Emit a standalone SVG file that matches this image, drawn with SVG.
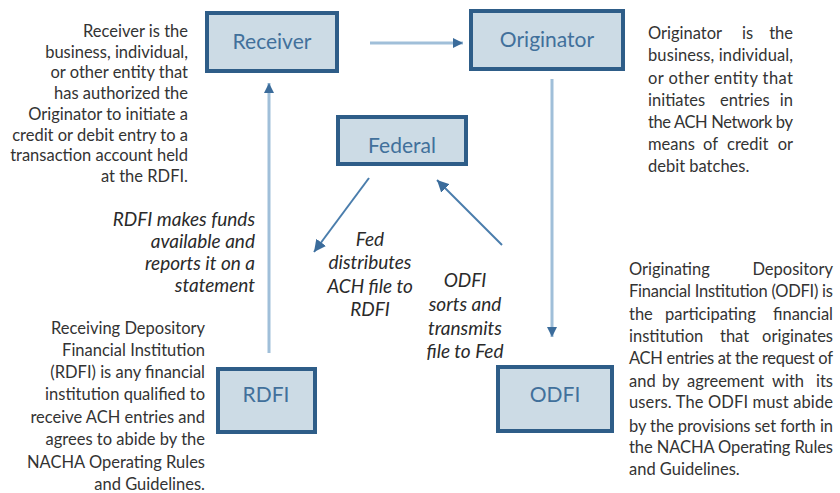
<svg xmlns="http://www.w3.org/2000/svg" width="840" height="493" viewBox="0 0 840 493">
<defs>
<style>
.box{fill:#ccdbe5;stroke:#2e5d88;stroke-width:4}
.lbl{font-family:Lato,"Liberation Sans",sans-serif;font-size:21px;fill:#41709b;text-anchor:middle}
.desc{font-family:Lato,"Liberation Sans",sans-serif;font-size:16.5px;fill:#333333}
.it{font-family:Lato,"Liberation Sans",sans-serif;font-size:19px;font-style:italic;fill:#2a2a2a}
.r{text-anchor:end}
.c{text-anchor:middle}
.lc{fill:none;stroke:#a0bfd9;stroke-width:3}
.dc{fill:none;stroke:#4a7dac;stroke-width:2}
</style>
<marker id="ah" viewBox="0 0 10 10" refX="10" refY="5" markerWidth="10" markerHeight="10" markerUnits="userSpaceOnUse" orient="auto"><path d="M0,0 L10,5 L0,10 z" fill="#3b6c9b"/></marker>
<marker id="ah2" viewBox="0 0 10 10" refX="10" refY="5" markerWidth="12" markerHeight="12" markerUnits="userSpaceOnUse" orient="auto"><path d="M0,0 L10,5 L0,10 z" fill="#3b6c9b"/></marker>
</defs>
<rect width="840" height="493" fill="#ffffff"/>
<g id="connectors">
<line class="lc" x1="370" y1="43" x2="463" y2="43" marker-end="url(#ah)"/>
<line class="lc" x1="552" y1="79" x2="552" y2="337" marker-end="url(#ah)"/>
<line class="lc" x1="269" y1="353" x2="269" y2="83" marker-end="url(#ah)"/>
<line class="dc" x1="369" y1="178" x2="314" y2="252" marker-end="url(#ah2)"/>
<line class="dc" x1="502" y1="245" x2="437" y2="180" marker-end="url(#ah2)"/>
</g>
<g id="receiver"><rect class="box" x="207" y="13" width="130" height="58"/><text class="lbl" x="272" y="49">Receiver</text></g>
<g id="originator"><rect class="box" x="471" y="11" width="152" height="58"/><text class="lbl" x="547" y="47">Originator</text></g>
<g id="federal"><rect class="box" x="338" y="117" width="128" height="47"/><text class="lbl" x="402" y="153">Federal</text></g>
<g id="rdfi"><rect class="box" x="218" y="369" width="97" height="63"/><text class="lbl" x="266" y="402">RDFI</text></g>
<g id="odfi"><rect class="box" x="498" y="367" width="114" height="64"/><text class="lbl" x="555" y="402">ODFI</text></g>
<g id="receiver-desc" class="desc r">
<text x="188" y="37">Receiver is the</text>
<text x="188" y="58">business, individual,</text>
<text x="188" y="78">or other entity that</text>
<text x="188" y="99">has authorized the</text>
<text x="188" y="120">Originator to initiate a</text>
<text x="188" y="141">credit or debit entry to a</text>
<text x="188" y="161">transaction account held</text>
<text x="188" y="182">at the RDFI.</text>
</g>
<g id="rdfi-funds" class="it r">
<text x="255" y="226">RDFI makes funds</text>
<text x="255" y="248">available and</text>
<text x="255" y="270">reports it on a</text>
<text x="255" y="292">statement</text>
</g>
<g id="fed-dist" class="it c">
<text x="370" y="246">Fed</text>
<text x="370" y="269">distributes</text>
<text x="370" y="293">ACH file to</text>
<text x="370" y="316">RDFI</text>
</g>
<g id="odfi-sorts" class="it c">
<text x="465" y="287">ODFI</text>
<text x="465" y="311">sorts and</text>
<text x="465" y="335">transmits</text>
<text x="465" y="358">file to Fed</text>
</g>
<g id="originator-desc" class="desc">
<text y="39"><tspan x="648">Originator</tspan><tspan x="742">is</tspan><tspan x="793" text-anchor="end">the</tspan></text>
<text x="648" y="61" textLength="145" lengthAdjust="spacing">business, individual,</text>
<text x="648" y="84" textLength="145" lengthAdjust="spacing">or other entity that</text>
<text y="106"><tspan x="648">initiates</tspan><tspan x="720">entries</tspan><tspan x="793" text-anchor="end">in</tspan></text>
<text x="648" y="128" textLength="145" lengthAdjust="spacing">the ACH Network by</text>
<text y="150"><tspan x="648">means</tspan><tspan x="703">of</tspan><tspan x="727">credit</tspan><tspan x="793" text-anchor="end">or</tspan></text>
<text x="648" y="172">debit batches.</text>
</g>
<g id="rdfi-desc" class="desc r">
<text x="205" y="334">Receiving Depository</text>
<text x="205" y="356">Financial Institution</text>
<text x="205" y="378">(RDFI) is any financial</text>
<text x="205" y="400">institution qualified to</text>
<text x="205" y="423">receive ACH entries and</text>
<text x="205" y="445">agrees to abide by the</text>
<text x="205" y="468">NACHA Operating Rules</text>
<text x="205" y="490">and Guidelines.</text>
</g>
<g id="odfi-desc" class="desc">
<text y="275"><tspan x="629">Originating</tspan><tspan x="833" text-anchor="end">Depository</tspan></text>
<text x="629" y="297" textLength="204" lengthAdjust="spacing">Financial Institution (ODFI) is</text>
<text y="320"><tspan x="629">the</tspan><tspan x="665">participating</tspan><tspan x="833" text-anchor="end">financial</tspan></text>
<text y="342"><tspan x="629">institution</tspan><tspan x="720">that</tspan><tspan x="833" text-anchor="end">originates</tspan></text>
<text x="629" y="364" textLength="204" lengthAdjust="spacing">ACH entries at the request of</text>
<text y="387"><tspan x="629">and</tspan><tspan x="662">by</tspan><tspan x="687">agreement</tspan><tspan x="772">with</tspan><tspan x="833" text-anchor="end">its</tspan></text>
<text x="629" y="408" textLength="204" lengthAdjust="spacing">users. The ODFI must abide</text>
<text x="629" y="432" textLength="204" lengthAdjust="spacing">by the provisions set forth in</text>
<text x="629" y="453" textLength="204" lengthAdjust="spacing">the NACHA Operating Rules</text>
<text x="629" y="475">and Guidelines.</text>
</g>
</svg>
